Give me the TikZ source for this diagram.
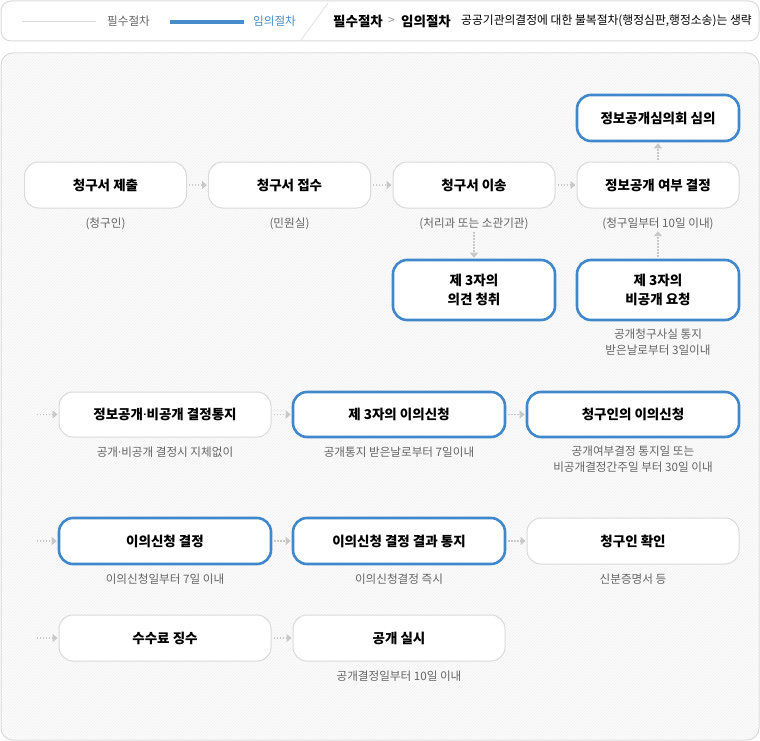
\documentclass[tikz,border=0pt]{standalone}
\usepackage{fontspec}
\setmainfont{Noto Sans CJK KR}
\newfontfamily\latinfont{Noto Sans}
\usetikzlibrary{arrows.meta,patterns}
\definecolor{boxblue}{RGB}{64,136,204}
\definecolor{lineblue}{RGB}{70,140,205}
\definecolor{boxgray}{RGB}{218,218,218}
\definecolor{txtgray}{RGB}{100,100,100}
\definecolor{arrgray}{RGB}{200,200,200}
\newcommand{\middot}{{\latinfont ·}}

\begin{document}
\begin{tikzpicture}[x=1pt, y=-1pt,
  plain box/.style={draw=boxgray, line width=1pt, fill=white, rounded corners=14pt,
    minimum width=162pt, inner sep=0pt, align=center,
    font=\fontsize{13.5}{19}\selectfont\bfseries},
  blue box/.style={plain box, draw=boxblue, line width=2.6pt},
  note/.style={font=\fontsize{11.6}{16}\selectfont, text=txtgray, align=center, inner sep=0pt},
  flow/.style={arrgray, line width=1.4pt, dash pattern=on 1.4pt off 1.6pt,
    -{Triangle[length=5pt,width=8pt]}, shorten <=2pt, shorten >=1pt}]
  \useasboundingbox (0,0) rectangle (760,741);
  % legend bar
  \draw[boxgray, line width=1pt, fill=white, rounded corners=10pt] (1,1) rectangle (759,41);
  \draw[boxgray, line width=1pt] (22,22) -- (96,22);
  \node[note, anchor=west] (lg1) at (107,21) {필수절차};
  \draw[lineblue, line width=4pt] (170,22) -- (244,22);
  \node[note, anchor=west, text=lineblue] (lg2) at (253,21) {임의절차};
  \draw[boxgray!80, line width=0.8pt] (328,3) -- (301,40);
  \node[anchor=west, inner sep=0pt, font=\fontsize{13.5}{15}\selectfont\bfseries] (hd1) at (333,21) {필수절차};
  \node[anchor=west, inner sep=0pt, text=txtgray!70, font=\fontsize{12}{14}\selectfont] (hd2) at (388,21) {>};
  \node[anchor=west, inner sep=0pt, font=\fontsize{13.5}{15}\selectfont\bfseries] (hd3) at (401,21) {임의절차};
  \node[anchor=west, inner sep=0pt, font=\fontsize{11.8}{14}\selectfont] (hd4) at (461,21) {공공기관의결정에 대한 불복절차(행정심판,행정소송)는 생략};
  % main panel
  \draw[boxgray, line width=1pt, fill=gray!2, rounded corners=12pt] (1,53) rectangle (759,740);
  \fill[pattern=north east lines, pattern color=gray!12, rounded corners=12pt] (2,54) rectangle (758,739);
  % row 1
  \node[plain box, minimum height=46pt] (submit) at (105.5,185) {청구서 제출};
  \node[plain box, minimum height=46pt] (receive) at (289.5,185) {청구서 접수};
  \node[plain box, minimum height=46pt] (transfer) at (474,185) {청구서 이송};
  \node[plain box, minimum height=46pt] (decide) at (658,185) {정보공개 여부 결정};
  \node[blue box, minimum height=46pt] (council) at (658,118) {정보공개심의회 심의};
  \node[note] (submit note) at (105.5,224) {(청구인)};
  \node[note] (receive note) at (289.5,224) {(민원실)};
  \node[note] (transfer note) at (474,224) {(처리과 또는 소관기관)};
  \node[note] (decide note) at (658,224) {(청구일부터 10일 이내)};
  % row 2
  \node[blue box, minimum height=60pt] (hearing) at (474,290) {제 3자의\\의견 청취};
  \node[blue box, minimum height=60pt] (refusal) at (658,290) {제 3자의\\비공개 요청};
  \node[note] (refusal note) at (658,342) {공개청구사실 통지\\받은날로부터 3일이내};
  % row 3
  \node[plain box, minimum width=212pt, minimum height=45pt] (notice) at (165,414.5) {정보공개\middot 비공개 결정통지};
  \node[blue box, minimum width=212pt, minimum height=45pt] (objthird) at (399,414.5) {제 3자의 이의신청};
  \node[blue box, minimum width=212pt, minimum height=45pt] (objclaim) at (633,414.5) {청구인의 이의신청};
  \node[note] (notice note) at (165,452) {공개\middot 비공개 결정시 지체없이};
  \node[note] (objthird note) at (399,452) {공개통지 받은날로부터 7일이내};
  \node[note] (objclaim note) at (633,459.5) {공개여부결정 통지일 또는\\비공개결정간주일 부터 30일 이내};
  % row 4
  \node[blue box, minimum width=212pt, minimum height=46pt] (objdecide) at (165,541) {이의신청 결정};
  \node[blue box, minimum width=212pt, minimum height=46pt] (objresult) at (399,541) {이의신청 결정 결과 통지};
  \node[plain box, minimum width=212pt, minimum height=46pt] (identify) at (633,541) {청구인 확인};
  \node[note] (objdecide note) at (165,579) {이의신청일부터 7일 이내};
  \node[note] (objresult note) at (399,579) {이의신청결정 즉시};
  \node[note] (identify note) at (633,579) {신분증명서 등};
  % row 5
  \node[plain box, minimum width=212pt, minimum height=46pt] (fee) at (165,638) {수수료 징수};
  \node[plain box, minimum width=212pt, minimum height=46pt] (disclose) at (399,638) {공개 실시};
  \node[note] (disclose note) at (399,676) {공개결정일부터 10일 이내};
  % connectors
  \coordinate (start3) at (37,414.5);
  \coordinate (start4) at (37,541);
  \coordinate (start5) at (37,638);
  \draw[flow] (submit) -- (receive);
  \draw[flow] (receive) -- (transfer);
  \draw[flow] (transfer) -- (decide);
  \draw[flow] (decide) -- (council);
  \draw[flow] (transfer note) -- (hearing);
  \draw[flow] (refusal) -- (decide note);
  \draw[flow, shorten <=0pt] (start3) -- (notice);
  \draw[flow] (notice) -- (objthird);
  \draw[flow] (objthird) -- (objclaim);
  \draw[flow, shorten <=0pt] (start4) -- (objdecide);
  \draw[flow] (objdecide) -- (objresult);
  \draw[flow] (objresult) -- (identify);
  \draw[flow, shorten <=0pt] (start5) -- (fee);
  \draw[flow] (fee) -- (disclose);
\end{tikzpicture}
\end{document}
